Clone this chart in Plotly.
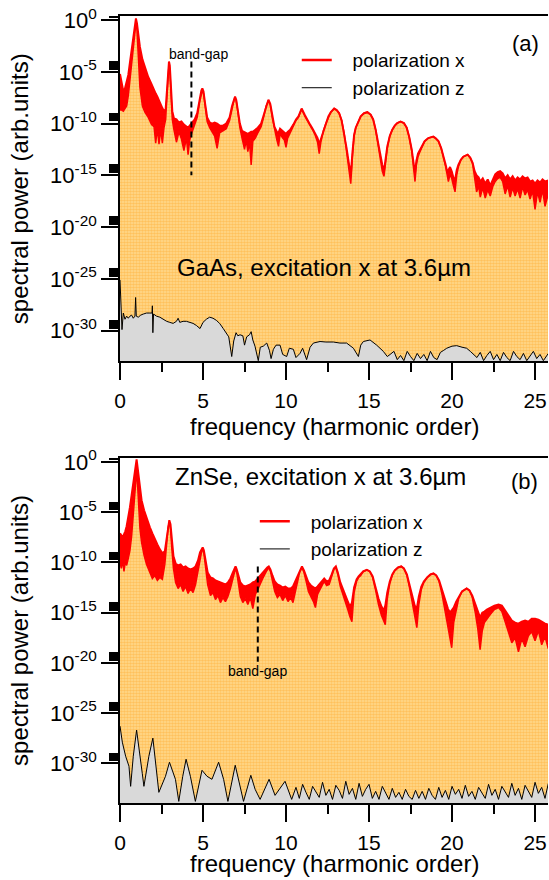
import math
import plotly.graph_objects as go

# ---------------- data (log10 of spectral power) ----------------
# GaAs, polarization x: upper / lower edge of the (noisy) red trace
ga_x = [0.00, 0.10, 0.20, 0.30, 0.40, 0.50, 0.60, 0.70, 0.80, 0.90, 0.96, 1.02, 1.10, 1.20, 1.35, 1.50,
        1.70, 1.90, 2.05, 2.15, 2.25, 2.35, 2.45, 2.55, 2.65, 2.75, 2.83, 2.90, 2.95, 3.00, 3.07, 3.15,
        3.25, 3.40, 3.55, 3.70, 3.85, 4.00, 4.10, 4.20, 4.35, 4.50, 4.65, 4.80, 4.90, 4.96, 5.03, 5.12,
        5.25, 5.40, 5.55, 5.70, 5.85, 6.00, 6.20, 6.40, 6.60, 6.75, 6.87, 6.93, 7.00, 7.10, 7.22, 7.35,
        7.50, 7.60, 7.70, 7.80, 7.90, 8.00, 8.15, 8.30, 8.50, 8.65, 8.80, 8.94, 9.05, 9.18, 9.30, 9.45,
        9.55, 9.64, 9.80, 9.90, 10.00, 10.10, 10.25, 10.44, 10.60, 10.75, 10.94, 11.14, 11.30, 11.45,
        11.60, 11.75, 11.90, 12.00, 12.10, 12.25, 12.40, 12.55, 12.70, 12.90, 13.05, 13.20, 13.35, 13.50,
        13.65, 13.80, 13.90, 14.00, 14.10, 14.20, 14.35, 14.50, 14.70, 14.90, 15.10, 15.25, 15.40, 15.50,
        15.65, 15.80, 15.90, 16.00, 16.10, 16.25, 16.40, 16.55, 16.70, 16.90, 17.10, 17.27, 17.42, 17.57,
        17.70, 17.77, 17.85, 17.95, 18.05, 18.17, 18.35, 18.57, 18.75, 18.87, 19.00, 19.18, 19.35, 19.50,
        19.62, 19.70, 19.78, 19.88, 19.98, 20.08, 20.18, 20.28, 20.38, 20.53, 20.68, 20.94, 21.10, 21.24,
        21.36, 21.48, 21.60, 21.70, 21.85, 22.00, 22.15, 22.30, 22.45, 22.60, 22.75, 22.90, 23.05, 23.20,
        23.35, 23.50, 23.65, 23.80, 23.95, 24.10, 24.25, 24.40, 24.55, 24.70, 24.85, 25.00, 25.15, 25.30,
        25.45, 25.60, 25.80]
ga_up = [-5.2, -6.3, -6.9, -6.6, -6.0, -5.3, -4.1, -2.9, -1.8, -0.5, 0.15, -0.3, -1.3, -2.6, -3.8, -4.6,
         -5.5, -6.2, -6.8, -7.1, -7.4, -7.8, -8.1, -8.5, -8.8, -8.6, -6.8, -4.6, -4.0, -4.4, -6.5, -8.8,
         -9.5, -9.6, -9.9, -9.8, -10.1, -10.3, -10.4, -10.2, -9.9, -9.6, -9.0, -7.6, -6.8, -6.6, -6.9, -8.0,
         -9.4, -9.9, -10.0, -9.9, -10.0, -10.2, -10.2, -10.0, -9.4, -8.3, -7.6, -7.4, -7.7, -8.7, -10.0, -10.7,
         -10.8, -10.9, -11.0, -10.9, -10.8, -10.8, -10.6, -10.4, -10.0, -9.2, -8.2, -7.7, -8.1, -9.3, -10.3, -10.8,
         -10.9, -10.5, -10.7, -10.9, -11.0, -10.8, -10.6, -10.1, -9.6, -9.3, -8.55, -9.2, -9.6, -10.1,
         -10.5, -10.9, -11.4, -12.0, -11.5, -10.6, -9.95, -9.3, -8.9, -8.55, -8.7, -9.0, -9.7, -10.9,
         -12.4, -14.0, -15.0, -12.8, -11.1, -10.4, -9.8, -9.3, -9.0, -8.9, -9.15, -9.6, -10.6, -11.5,
         -12.8, -14.0, -14.6, -13.2, -12.2, -11.2, -10.6, -10.2, -9.95, -9.8, -9.95, -10.4, -11.3, -12.5,
         -14.0, -14.8, -13.6, -12.9, -12.6, -12.2, -11.7, -11.4, -11.3, -11.26, -11.4, -11.7, -12.4, -13.2,
         -14.0, -14.6, -14.5, -14.2, -14.6, -15.2, -15.5, -14.5, -14.0, -13.5, -13.2, -13.0, -13.3, -13.8,
         -14.6, -15.0, -15.2, -15.6, -15.3, -15.8, -15.4, -16.0, -15.4, -14.9, -14.7, -14.6, -14.8, -15.3,
         -15.0, -15.4, -15.1, -15.5, -15.2, -15.4, -15.1, -15.3, -15.2, -15.6, -15.5, -15.8, -15.5, -15.7,
         -15.4, -15.6, -15.5]
ga_lo = [-8.7, -8.7, -8.8, -8.6, -8.3, -7.3, -5.8, -4.4, -2.9, -1.2, -0.3, -0.9, -3.4, -6.5, -8.3, -8.9,
         -9.4, -10.1, -10.3, -11.9, -10.5, -12.0, -10.6, -11.9, -10.4, -9.6, -7.3, -5.0, -4.3, -4.8, -7.2, -9.6,
         -10.6, -11.8, -10.8, -11.5, -12.6, -11.4, -13.0, -11.6, -10.8, -10.1, -9.4, -7.9, -7.0, -6.8, -7.1, -8.3,
         -9.8, -10.4, -10.8, -11.2, -12.4, -10.9, -10.7, -10.5, -9.7, -8.5, -7.7, -7.5, -7.8, -8.9, -10.4, -11.4,
         -12.5, -11.6, -12.7, -11.8, -14.0, -11.7, -11.4, -10.9, -10.3, -9.4, -8.3, -7.8, -8.2, -9.5, -10.6, -11.6,
         -12.2, -11.0, -11.4, -11.6, -12.3, -11.4, -10.9, -10.3, -9.7, -9.4, -8.6, -9.3, -9.7, -10.2,
         -10.6, -11.1, -11.8, -12.9, -11.8, -10.7, -10.0, -9.35, -8.9, -8.55, -8.7, -9.0, -9.7, -10.9,
         -12.6, -14.6, -15.8, -13.2, -11.2, -10.4, -9.8, -9.3, -9.0, -8.9, -9.15, -9.6, -10.6, -11.6,
         -13.0, -14.6, -15.1, -13.6, -12.4, -11.2, -10.6, -10.2, -9.95, -9.8, -9.95, -10.4, -11.3, -12.6,
         -14.5, -15.6, -14.0, -13.2, -12.8, -12.3, -11.7, -11.4, -11.3, -11.26, -11.4, -11.7, -12.4, -13.3,
         -14.2, -14.9, -15.6, -14.9, -15.3, -16.0, -16.6, -15.0, -14.2, -13.5, -13.2, -13.0, -13.3, -13.9,
         -15.4, -16.6, -16.0, -17.1, -16.2, -17.2, -16.4, -17.0, -16.1, -15.6, -15.3, -15.2, -15.6, -16.8,
         -16.0, -17.1, -16.2, -17.0, -16.3, -17.2, -16.1, -16.9, -16.4, -17.3, -16.5, -18.3, -16.6, -17.6,
         -16.4, -18.0, -16.8]

# GaAs, polarization z
ga_zx = [0.00, 0.04, 0.12, 0.20, 0.30, 0.40, 0.50, 0.60, 0.70, 0.80, 0.90, 0.94, 0.98, 1.10, 1.25, 1.40,
         1.60, 1.80, 1.93, 1.95, 1.98, 2.02, 2.20, 2.40, 2.60, 2.81, 3.00, 3.20, 3.40, 3.50, 3.60, 3.80,
         4.00, 4.20, 4.40, 4.60, 4.82, 5.00, 5.20, 5.40, 5.60, 5.80, 6.00, 6.22, 6.40, 6.55, 6.73, 6.85,
         6.99, 7.10, 7.23, 7.40, 7.50, 7.63, 7.80, 7.90, 8.00, 8.13, 8.33, 8.45, 8.63, 8.84, 9.00, 9.10,
         9.24, 9.40, 9.64, 9.80, 10.04, 10.20, 10.44, 10.60, 10.84, 11.00, 11.24, 11.45, 11.65, 12.05,
         12.40, 12.85, 13.25, 13.65, 14.06, 14.36, 14.50, 14.66, 15.06, 15.46, 15.86, 16.10, 16.27, 16.50,
         16.70, 16.90, 17.10, 17.30, 17.50, 17.70, 17.90, 18.10, 18.30, 18.50, 18.70, 18.90, 19.10, 19.30,
         19.50, 19.68, 20.00, 20.28, 20.60, 20.88, 21.10, 21.29, 21.50, 21.70, 21.90, 22.10, 22.30, 22.50,
         22.70, 22.90, 23.10, 23.30, 23.50, 23.70, 23.90, 24.10, 24.30, 24.50, 24.70, 24.90, 25.10, 25.30,
         25.50, 25.80]
ga_z = [-25.1, -27.5, -29.9, -28.3, -28.9, -28.6, -28.8, -28.6, -28.5, -28.8, -28.6, -26.8, -28.6, -28.7,
        -28.5, -28.4, -28.3, -28.3, -28.3, -27.6, -30.2, -28.4, -28.6, -28.7, -28.9, -29.1, -29.2, -29.3,
        -29.1, -28.8, -29.2, -29.1, -29.1, -29.2, -29.3, -29.5, -29.8, -29.2, -28.9, -28.7, -28.8, -29.0,
        -29.3, -29.8, -30.3, -30.6, -32.5, -31.0, -30.2, -30.5, -30.4, -30.5, -31.4, -30.6, -30.4, -30.1,
        -30.9, -31.5, -32.9, -31.6, -31.5, -31.2, -31.9, -32.7, -31.8, -31.4, -31.4, -32.3, -32.5, -31.7,
        -31.8, -32.6, -32.2, -31.7, -32.8, -31.6, -31.2, -31.05, -31.1, -31.1, -31.2, -31.2, -31.7, -32.5,
        -31.4, -31.05, -30.9, -31.4, -32.0, -32.5, -32.3,
        -32.0, -32.8, -32.4, -32.9, -32.0, -32.5, -32.9, -32.2, -32.7, -32.3, -32.9, -32.0, -32.6, -32.8,
        -32.1, -31.9, -31.7, -31.5, -31.45, -31.6, -31.7, -32.0, -32.3,
        -32.6, -32.1, -32.9, -32.4, -32.0, -32.8, -32.3, -32.9, -32.1, -32.6, -32.9, -32.0, -32.5, -32.8,
        -32.2, -32.9, -32.4, -32.0, -32.7, -32.3, -32.9, -32.2]

# ZnSe, polarization x: upper / lower edge of the red trace
zn_x = [0.00, 0.08, 0.16, 0.24, 0.32, 0.40, 0.50, 0.60, 0.70, 0.80, 0.90, 0.96, 1.00, 1.05, 1.12, 1.20,
        1.30, 1.45, 1.60, 1.80, 1.95, 2.10, 2.25, 2.40, 2.55, 2.70, 2.82, 2.90, 2.97, 3.04, 3.12, 3.22,
        3.35, 3.50, 3.65, 3.80, 3.95, 4.10, 4.25, 4.40, 4.55, 4.70, 4.82, 4.92, 4.98, 5.05, 5.15, 5.28,
        5.45, 5.60, 5.75, 5.90, 6.05, 6.20, 6.35, 6.50, 6.65, 6.80, 6.90, 6.96, 7.03, 7.12, 7.25, 7.40,
        7.55, 7.70, 7.85, 8.00, 8.15, 8.30, 8.45, 8.60, 8.75, 8.87, 8.96, 9.06, 9.18, 9.32, 9.48, 9.64,
        9.80, 9.96, 10.12, 10.28, 10.42, 10.56, 10.70, 10.82, 10.96, 11.08, 11.20, 11.35, 11.50, 11.65,
        11.77, 11.90, 12.05, 12.20, 12.30, 12.45, 12.60, 12.75, 12.88, 13.00, 13.12, 13.27, 13.40, 13.55,
        13.70, 13.85, 13.97, 14.10, 14.25, 14.37, 14.50, 14.65, 14.87, 15.05, 15.22, 15.40, 15.57, 15.75,
        15.88, 15.98, 16.10, 16.25, 16.40, 16.55, 16.75, 16.94, 17.10, 17.28, 17.45, 17.60, 17.75, 17.88,
        18.00, 18.15, 18.30, 18.50, 18.70, 18.88, 19.05, 19.22, 19.40, 19.58, 19.75, 19.88, 19.98, 20.10,
        20.25, 20.40, 20.60, 20.88, 21.05, 21.22, 21.40, 21.55, 21.69, 21.82, 21.95, 22.10, 22.30, 22.55,
        22.80, 23.00, 23.20, 23.40, 23.60, 23.80, 24.00, 24.20, 24.40, 24.60, 24.80, 25.00, 25.20, 25.40,
        25.60, 25.80]
zn_up = [-7.1, -7.3, -7.5, -7.2, -6.9, -6.4, -5.6, -4.5, -3.3, -2.1, -0.8, 0.0, 0.25, -0.4, -1.5, -2.8,
         -3.8, -4.8, -5.6, -6.5, -7.1, -7.7, -8.2, -8.7, -9.1, -8.9, -7.3, -6.2, -5.8, -6.2, -7.8, -9.4,
         -10.1, -10.3, -10.2, -10.5, -10.4, -10.6, -10.7, -10.6, -10.4, -9.8, -9.0, -8.6, -8.5, -8.8, -9.8, -11.0,
         -11.5, -11.6, -11.8, -11.9, -12.0, -12.1, -12.2, -12.0, -11.6, -11.0, -10.6, -10.4, -10.7, -11.3, -12.0, -12.3,
         -12.4, -12.3, -12.2, -12.0, -11.9, -11.6, -11.3, -11.1, -10.8, -10.5, -10.4, -10.7, -11.3, -11.9, -12.2, -12.3,
         -12.5, -12.4, -12.6, -12.6, -12.4, -11.9, -11.3, -10.8, -10.4, -10.8, -11.4, -12.0, -12.3, -12.5,
         -12.6, -12.4, -12.1, -11.8, -11.6, -11.9, -11.8, -11.2, -10.6, -10.4, -11.0, -12.0, -12.6, -13.2,
         -13.8, -14.4, -14.0, -12.5, -11.7, -11.4, -11.2, -10.9, -10.75, -10.9, -11.4, -12.5, -13.6, -14.4,
         -14.8, -14.3, -13.0, -11.9, -11.2, -10.8, -10.5, -10.4, -10.6, -11.2, -12.3, -13.4, -14.3, -14.6,
         -13.4, -12.4, -11.9, -11.5, -11.2, -11.1, -11.3, -11.8, -12.8, -13.9, -14.6, -15.0, -14.8, -14.5,
         -13.9, -13.4, -12.9, -12.6, -12.8, -13.3, -14.2, -15.0, -15.5, -15.0, -14.9, -14.7, -14.5, -14.3,
         -14.2, -14.3, -14.8, -15.3, -15.8, -16.0, -16.1, -15.9, -15.8, -15.9, -15.6, -15.6, -15.7, -15.9,
         -16.1, -16.2]
zn_lo = [-10.0, -10.6, -9.8, -10.9, -9.9, -10.3, -9.6, -8.8, -7.4, -5.3, -3.0, -1.5, -0.9, -2.0, -4.5, -6.6,
         -8.0, -9.3, -10.2, -11.0, -11.6, -11.3, -11.8, -11.5, -11.7, -10.2, -7.9, -6.5, -6.0, -6.6, -8.6, -10.6,
         -12.0, -12.6, -12.2, -12.9, -12.4, -13.1, -12.6, -13.0, -12.2, -10.8, -9.5, -8.9, -8.7, -9.1, -10.4, -12.2,
         -13.3, -13.0, -13.7, -13.3, -14.0, -13.5, -13.9, -13.4, -12.6, -11.5, -10.9, -10.6, -11.0, -12.0, -13.4, -14.0,
         -13.6, -14.2, -13.5, -14.6, -13.2, -12.7, -12.1, -11.6, -11.1, -10.7, -10.5, -10.9, -11.8, -12.9, -13.5, -13.2,
         -13.8, -13.3, -13.9, -13.5, -14.0, -12.9, -11.8, -11.0, -10.5, -11.0, -11.8, -12.9, -13.4, -13.9,
         -14.5, -13.2, -12.7, -12.2, -11.9, -12.3, -12.2, -11.4, -10.7, -10.5, -11.2, -12.4, -13.0, -13.8,
         -14.6, -15.4, -15.9, -13.0, -11.9, -11.5, -11.3, -10.9, -10.75, -10.9, -11.5, -12.8, -14.2, -15.3,
         -15.8, -16.2, -13.6, -12.1, -11.3, -10.8, -10.5, -10.4, -10.6, -11.3, -12.6, -14.0, -15.5, -16.5,
         -14.2, -12.7, -12.0, -11.5, -11.2, -11.1, -11.3, -11.9, -13.2, -14.8, -16.2, -17.4, -18.5, -16.0,
         -14.6, -13.6, -12.9, -12.6, -12.8, -13.5, -15.0, -16.6, -18.7, -16.8, -16.0, -15.6, -15.2, -14.7,
         -14.5, -14.9, -16.0, -17.1, -18.0, -17.5, -18.9, -17.6, -18.4, -17.3, -16.9, -17.8, -16.8, -18.2,
         -17.4, -18.6]

# ZnSe, polarization z
zn_zx = [0.00, 0.14, 0.34, 0.54, 0.64, 0.80, 1.00, 1.18, 1.34, 1.44, 1.74, 1.98, 2.18, 2.34, 2.74, 2.98,
         3.34, 3.54, 3.78, 3.98, 4.24, 4.54, 4.94, 5.24, 5.54, 5.94, 6.24, 6.50, 6.94, 7.24, 7.44, 7.88,
         8.14, 8.44, 8.98, 9.34, 9.94, 10.34, 10.60, 10.80, 11.00, 11.20, 11.40, 11.60, 11.80, 12.00,
         12.20, 12.40, 12.60, 12.80, 13.00, 13.20, 13.40, 13.60, 13.80, 14.00, 14.20, 14.40, 14.60, 14.80,
         15.00, 15.20, 15.40, 15.60, 15.80, 16.00, 16.20, 16.40, 16.60, 16.80, 17.00, 17.20, 17.40, 17.60,
         17.80, 18.00, 18.20, 18.40, 18.60, 18.80, 19.00, 19.20, 19.40, 19.60, 19.80, 20.00, 20.20, 20.40,
         20.60, 20.80, 21.00, 21.20, 21.40, 21.60, 21.80, 22.00, 22.20, 22.40, 22.60, 22.80, 23.00, 23.20,
         23.40, 23.60, 23.80, 24.00, 24.20, 24.40, 24.60, 24.80, 25.00, 25.20, 25.40, 25.60, 25.80]
zn_z = [-26.3, -27.9, -29.3, -30.3, -32.3, -29.3, -26.7, -29.3, -31.0, -32.3, -29.3, -27.5, -30.3, -32.9,
        -31.3, -29.9, -31.6, -33.8, -31.3, -29.6, -31.3, -33.8, -30.7, -31.3, -31.6, -29.9, -31.6, -33.8,
        -30.2, -32.3, -33.8, -31.2, -32.6, -33.6, -31.6, -33.2, -31.8, -33.6,
        -32.4, -33.5, -32.1, -32.9, -33.6, -32.3, -32.8, -33.4, -31.9, -33.2, -32.6, -33.6, -32.2, -32.7,
        -33.5, -31.8, -33.1, -32.5, -33.6, -32.0, -33.3, -32.6, -32.1, -33.5, -32.8, -33.6, -32.3, -33.0,
        -33.6, -32.5, -33.4, -32.9, -33.6, -32.6, -33.3, -33.6, -32.7, -33.5, -32.8, -33.6, -32.5, -33.2,
        -33.6, -32.4, -33.4, -32.7, -33.6, -32.3, -33.1, -32.6, -33.5, -32.2, -33.3, -32.8, -33.6, -32.4,
        -32.9, -33.5, -32.1, -33.2, -32.6, -33.6, -32.3, -32.9, -33.4, -32.0, -33.2, -32.5, -33.6, -32.2,
        -32.8, -33.4, -31.9, -33.0, -32.4, -33.5, -32.0]

# band-gap positions (harmonic order) and the vertical extent of their dashed markers
bandgap_a = 4.3
bandgap_a_span = [-4.0, -15.0]
bandgap_b = 8.3
bandgap_b_span = [-10.4, -19.9]

y_tick_vals = [0, -5, -10, -15, -20, -25, -30]
y_tick_text = ["10<sup>0</sup>", "10<sup>-5</sup>", "10<sup>-10</sup>", "10<sup>-15</sup>",
               "10<sup>-20</sup>", "10<sup>-25</sup>", "10<sup>-30</sup>"]
x_tick_vals = [0, 5, 10, 15, 20, 25]

# ---------------- styling ----------------
FONT = "Liberation Sans, Arial, Helvetica, sans-serif"
FLOOR = -40
ORANGE_FILL = dict(shape=".", fgcolor="rgb(255,166,40)", bgcolor="rgb(255,220,145)",
                   size=3, solidity=0.6)
GREY = "rgb(217,217,217)"
RED = "rgb(255,0,0)"

# minor ticks 2..9 x 10^n next to every labelled decade
y_minor_vals = [d + math.log10(k) for d in y_tick_vals for k in range(2, 10)]

fig = go.Figure()


def add_panel(xs, up, lo, zx, z, xa, ya, bg, bg_span):
    fig.add_trace(go.Scatter(x=xs, y=[FLOOR] * len(xs), mode="lines", line=dict(width=0),
                             xaxis=xa, yaxis=ya, showlegend=False, hoverinfo="skip"))
    fig.add_trace(go.Scatter(x=xs, y=lo, mode="lines", fill="tonexty", fillpattern=ORANGE_FILL,
                             fillcolor="rgb(255,220,145)",
                             line=dict(color=RED, width=1.5), xaxis=xa, yaxis=ya, showlegend=False))
    fig.add_trace(go.Scatter(x=xs, y=up, mode="lines", fill="tonexty", fillcolor=RED,
                             line=dict(color=RED, width=2), xaxis=xa, yaxis=ya, showlegend=False))
    fig.add_trace(go.Scatter(x=zx, y=[FLOOR] * len(zx), mode="lines", line=dict(width=0),
                             xaxis=xa, yaxis=ya, showlegend=False, hoverinfo="skip"))
    fig.add_trace(go.Scatter(x=zx, y=z, mode="lines", fill="tonexty", fillcolor=GREY,
                             line=dict(color="black", width=1), xaxis=xa, yaxis=ya, showlegend=False))
    fig.add_trace(go.Scatter(x=[bg, bg], y=bg_span, mode="lines",
                             line=dict(color="black", width=2, dash="6px,4px"),
                             xaxis=xa, yaxis=ya, showlegend=False))


add_panel(ga_x, ga_up, ga_lo, ga_zx, ga_z, "x", "y", bandgap_a, bandgap_a_span)
add_panel(zn_x, zn_up, zn_lo, zn_zx, zn_z, "x2", "y2", bandgap_b, bandgap_b_span)

# legend entries (line samples only)
for leg in ["legend", "legend2"]:
    fig.add_trace(go.Scatter(x=[None], y=[None], mode="lines", line=dict(color=RED, width=2.5),
                             name="\u00a0\u00a0\u00a0polarization x", legend=leg))
    fig.add_trace(go.Scatter(x=[None], y=[None], mode="lines", line=dict(color="black", width=1),
                             name="\u00a0\u00a0\u00a0polarization z", legend=leg))

xaxis_style = dict(range=[0, 25.78], tickvals=x_tick_vals, ticks="outside", ticklen=17, tickwidth=1.5,
                   tickcolor="black", minor=dict(dtick=2.5, tick0=0, ticks="outside", ticklen=9,
                                                 tickwidth=1.5, tickcolor="black"),
                   showline=True, linecolor="black", linewidth=1.5, mirror=True, automargin=False,
                   showgrid=False, zeroline=False, tickfont=dict(size=21), ticklabelstandoff=3)
yaxis_style = dict(tickmode="array", tickvals=y_tick_vals, ticktext=y_tick_text, ticks="outside",
                   ticklen=17, tickwidth=1.5, tickcolor="black", automargin=False,
                   minor=dict(tickmode="array", tickvals=y_minor_vals, ticks="outside", ticklen=9,
                              tickwidth=1.5, tickcolor="black"),
                   showline=True, linecolor="black", linewidth=1.5,
                   showgrid=False, zeroline=False, tickfont=dict(size=22),
                   title=dict(text="spectral power (arb.units)", font=dict(size=24)))

x_title = "frequency (harmonic order)"

fig.update_layout(
    width=549, height=880,
    margin=dict(l=120, r=1, t=16, b=77),
    paper_bgcolor="white", plot_bgcolor="white",
    font=dict(family=FONT, color="black"),
    xaxis=dict(domain=[0, 1], anchor="y", **xaxis_style),
    yaxis=dict(domain=[0.561, 1.0], anchor="x", range=[-32.98, 0.39], **yaxis_style),
    xaxis2=dict(domain=[0, 1], anchor="y2", **xaxis_style),
    yaxis2=dict(domain=[0, 0.4384], anchor="x2", range=[-33.96, 0.4], **yaxis_style),
    legend=dict(x=0.413, y=0.968, xanchor="left", yanchor="top", bgcolor="rgba(0,0,0,0)",
                traceorder="normal", font=dict(size=19)),
    legend2=dict(x=0.315, y=0.382, xanchor="left", yanchor="top", bgcolor="rgba(0,0,0,0)",
                 traceorder="normal", font=dict(size=19)),
    annotations=[
        # x-axis titles, placed under each panel's tick labels
        dict(text=x_title, x=0.5, y=0.479, xref="paper", yref="paper", showarrow=False,
             xanchor="center", yanchor="middle", font=dict(size=24)),
        dict(text=x_title, x=0.5, y=-0.0775, xref="paper", yref="paper", showarrow=False,
             xanchor="center", yanchor="middle", font=dict(size=24)),
        dict(text="(a)", x=24.45, y=-2.25, xref="x", yref="y", showarrow=False, font=dict(size=22)),
        dict(text="GaAs, excitation x at 3.6µm", x=12.27, y=-23.9, xref="x", yref="y",
             showarrow=False, font=dict(size=24)),
        dict(text="band-gap", x=4.7, y=-3.3, xref="x", yref="y", showarrow=False, font=dict(size=14)),
        dict(text="(b)", x=24.38, y=-1.96, xref="x2", yref="y2", showarrow=False, font=dict(size=22)),
        dict(text="ZnSe, excitation x at 3.6µm", x=12.1, y=-1.46, xref="x2", yref="y2",
             showarrow=False, font=dict(size=24)),
        dict(text="band-gap", x=8.3, y=-20.8, xref="x2", yref="y2", showarrow=False,
             font=dict(size=14)),
    ],
)

# the page body has a default 8px margin; drop it so the 549x880 figure fills the window
fig.write_html("out.html", config={"displayModeBar": False},
               post_script="document.body.style.margin='0px';")
